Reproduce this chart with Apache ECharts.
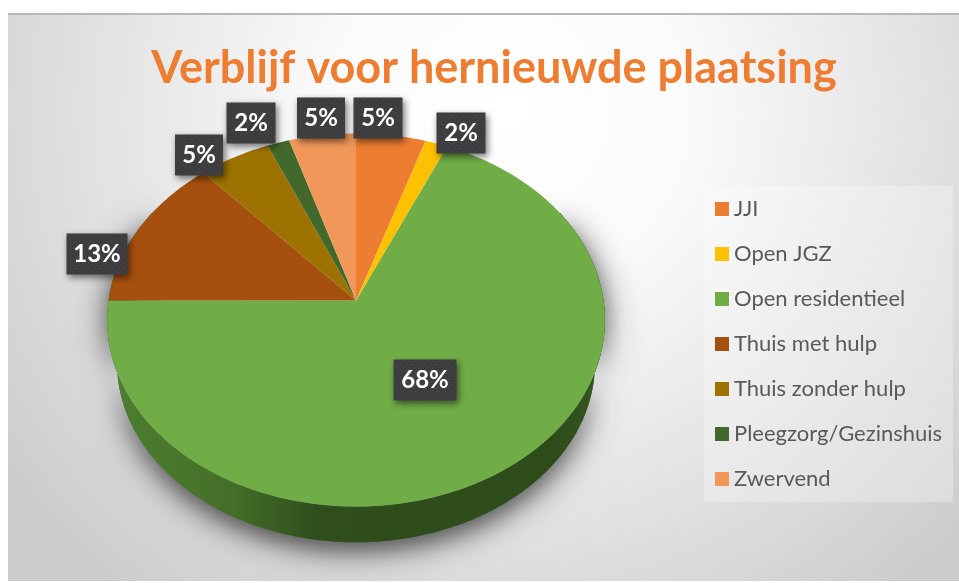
<!DOCTYPE html>
<html>
<head>
<meta charset="utf-8">
<style>html,body{margin:0;padding:0;background:#fff}#c{width:959px;height:583px}</style>
<script src="https://cdn.jsdelivr.net/npm/echarts@6/dist/echarts.min.js"></script>
</head>
<body>
<div id="c"></div>
<script>
const categories = ['JJI','Open JGZ','Open residentieel','Thuis met hulp','Thuis zonder hulp','Pleegzorg/Gezinshuis','Zwervend'];
const values = [5.0,1.6,68.4,13.4,5.2,1.6,4.8];
const colors = ['#ED7D31','#FFC000','#70AD47','#A5500F','#9E7200','#43682B','#F1975A'];
const labelCenters = [[378,118],[461,133],[425,380],[97,254],[199,155],[251,123],[321,118]];
const labelWidths = [49,49,63,61,48,49,48];

const geo = {cx:356, cy:300.5, b:247.5, a:184.5, p:0.1045, k:0.96, dy:44};
function rim(deg, s, off){
  const t = deg*Math.PI/180, u = Math.sin(t), v = Math.cos(t), w = 1+geo.p*v;
  return [geo.cx + s*geo.b*u/w, geo.cy - s*geo.a*v/w + off];
}
function arcPts(a0, a1, s, off){
  const pts = [], n = Math.max(2, Math.ceil(Math.abs(a1-a0)));
  for(let i=0;i<=n;i++) pts.push(rim(a0+(a1-a0)*i/n, s, off));
  return pts;
}
const total = values.reduce((x,y)=>x+y,0);
function startAngle(idx){
  let c = 0; for(let i=0;i<idx;i++) c += values[i];
  return c/total*360;
}
const dots = document.createElement('canvas');
dots.width = 6; dots.height = 6;
(function(){
  const g = dots.getContext('2d');
  g.fillStyle = '#3d3d3f'; g.fillRect(0,0,6,6);
  g.fillStyle = '#4d4d50'; g.fillRect(1,1,1,1); g.fillRect(4,4,1,1);
})();

function baseChildren(){
  const bottom = arcPts(60,300,geo.k,geo.dy);
  const wall = arcPts(60,300,1,0).concat(bottom.slice().reverse());
  const shadowStyle = (blur, alpha) => ({
    fill:'#777', shadowBlur:blur, shadowColor:'rgba(40,40,40,'+alpha+')', shadowOffsetY:7});
  return [
    {type:'polygon', shape:{points:wall}, silent:true, style:shadowStyle(38,0.6)},
    {type:'polygon', shape:{points:wall}, silent:true, style:shadowStyle(20,0.55)},
    {type:'polygon', shape:{points:wall}, silent:true, style:{
      fill:{type:'linear',x:107,y:0,x2:605,y2:0,global:true,colorStops:[
        {offset:0,color:'#4d7f30'},{offset:0.25,color:'#456f29'},{offset:0.42,color:'#2f4e1b'},
        {offset:0.9,color:'#2e4c1a'},{offset:1,color:'#36591f'}]}}}
  ];
}

const sliceSeries = categories.map((name,i)=>({
  type:'custom', name, coordinateSystem:'none', silent:true, animation:false,
  itemStyle:{color:colors[i]}, z:i===2?3:4,
  data:[[values[i]]],
  renderItem:function(params, api){
    const a0 = startAngle(i), a1 = a0 + api.value(0)/total*360;
    const pts = [[geo.cx,geo.cy]].concat(arcPts(a0,a1,1,0));
    const face = {type:'polygon', shape:{points:pts}, style:{fill:colors[i]}};
    return {type:'group', children: i===2 ? baseChildren().concat([face]) : [face]};
  }
}));

const labelSeries = {
  type:'custom', coordinateSystem:'none', silent:true, animation:false, z:6,
  data:values.map((v,i)=>[v,i]),
  renderItem:function(params, api){
    const i = api.value(1), c = labelCenters[i], w = labelWidths[i], h = 41;
    return {type:'group', children:[
      {type:'rect', shape:{x:c[0]-w/2,y:c[1]-h/2,width:w,height:h}, style:{
        fill:{image:dots,repeat:'repeat'}, shadowBlur:7, shadowColor:'rgba(0,0,0,0.55)', shadowOffsetX:2, shadowOffsetY:3}},
      {type:'text', x:c[0], y:c[1], style:{
        text:Math.round(api.value(0))+'%', fill:'#fff', font:'bold 24px Lato',
        align:'center', verticalAlign:'middle'}}
    ]};
  }
};

const chart = echarts.init(document.getElementById('c'), null, {renderer:'canvas'});
chart.setOption({
  animation:false,
  backgroundColor:'#ffffff',
  graphic:[
    {type:'rect', z:-2, silent:true, shape:{x:8,y:14,width:951,height:567}, style:{
      fill:{type:'radial',x:510,y:110,r:620,global:true,colorStops:[
        {offset:0,color:'#ffffff'},{offset:0.28,color:'#fbfbfb'},{offset:0.7,color:'#e0e0e0'},{offset:1,color:'#cccccc'}]}}},
    {type:'rect', z:-1, silent:true, shape:{x:8,y:13,width:951,height:2}, style:{fill:'#b8b8b8'}}
  ],
  title:{
    text:'Verblijf voor hernieuwde plaatsing', left:489, top:41, textAlign:'center',
    textStyle:{fontFamily:'Lato', fontWeight:'bold', fontSize:45, color:'#ED7D31'}
  },
  legend:{
    data:categories, orient:'vertical', left:704, top:186, padding:[12,11,12,11],
    itemWidth:14, itemHeight:14, itemGap:23,
    icon:'rect', backgroundColor:'rgba(255,255,255,0.28)',
    selectedMode:false,
    textStyle:{fontFamily:'Lato', fontSize:22, color:'#595959'}
  },
  tooltip:{show:false},
  series:sliceSeries.concat([labelSeries])
});
</script>
</body>
</html>
